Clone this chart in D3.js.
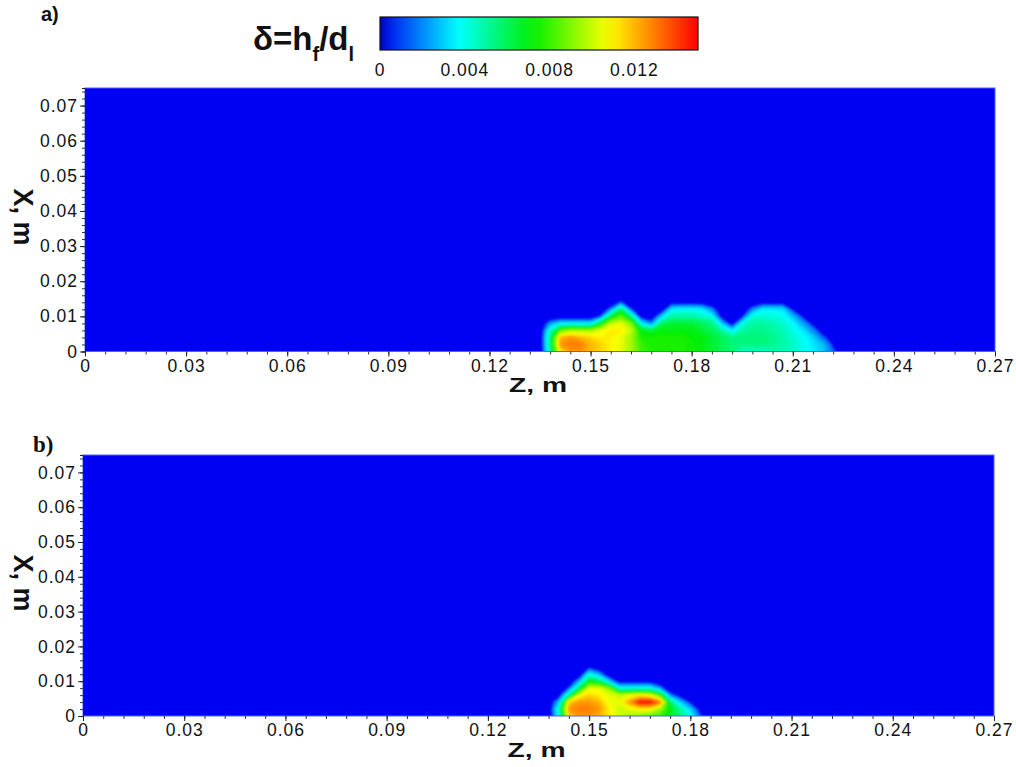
<!DOCTYPE html>
<html>
<head>
<meta charset="utf-8">
<script src="https://cdn.jsdelivr.net/npm/d3@7"></script>
<style>
  body { margin: 0; background: #fff; }
  svg { display: block; }
  text { font-family: "Liberation Sans", Arial, sans-serif; fill: #111; }
</style>
</head>
<body>
<svg id="chart" width="1016" height="767"></svg>
<script>
// Axis ticks
const zTicks = [0, 0.03, 0.06, 0.09, 0.12, 0.15, 0.18, 0.21, 0.24, 0.27];
const xTicks = [0, 0.01, 0.02, 0.03, 0.04, 0.05, 0.06, 0.07];
const legendTicks = [0, 0.004, 0.008, 0.012];

// Colour map of delta (jet-like, as in the colour bar)
const colorStops = [0, 0.0037, 0.0072, 0.0108, 0.015];
const colorList = ["#0000f2", "#00ffff", "#00f000", "#ffff00", "#ff0000"];

// Grid rows: X, m (shared by both panels)
const xRows = [0, 0.002, 0.004, 0.006, 0.008, 0.010, 0.012, 0.014, 0.016];

// Panel a) grid columns Z, m; delta profile along X for each column (units of 1e-3)
const zNodesA = [0.132, 0.135, 0.138, 0.141, 0.144, 0.147, 0.150, 0.153, 0.156, 0.159, 0.162,
                 0.165, 0.168, 0.171, 0.174, 0.177, 0.180, 0.183, 0.186, 0.189, 0.192, 0.195,
                 0.198, 0.201, 0.204, 0.207, 0.210, 0.213, 0.216, 0.219, 0.222, 0.225, 0.228];
const deltaA = [
  [0, 0, 0, 0, 0, 0, 0, 0, 0],
  [0, 0, 0, 0, 0, 0, 0, 0, 0],
  [5, 5.5, 5.5, 4.5, 2.2, 0, 0, 0, 0],
  [11, 12.5, 12, 8.5, 3.5, 0, 0, 0, 0],
  [12.5, 13, 12.5, 9.5, 3.5, 0, 0, 0, 0],
  [12.5, 13, 12, 9.5, 3.5, 0, 0, 0, 0],
  [12, 12, 11.5, 9.5, 3.5, 0, 0, 0, 0],
  [11.5, 11.5, 11, 10.5, 7, 1.5, 0, 0, 0],
  [11, 11, 11, 11, 10, 6.5, 2, 0, 0],
  [10.5, 10.5, 10.5, 11, 10.5, 8.5, 6, 1.5, 0],
  [9.5, 9.5, 9.5, 10, 9, 5.5, 1.5, 0, 0],
  [8, 8, 7.5, 7, 4, 0.5, 0, 0, 0],
  [7.5, 7.5, 7.5, 6.5, 2, 0, 0, 0, 0],
  [7.5, 7.5, 7.5, 7, 6, 3, 0, 0, 0],
  [7.5, 7.5, 7.5, 7, 6.5, 5, 3.5, 0.5, 0],
  [7.5, 7.5, 7.5, 7, 6.5, 5, 3.8, 0.5, 0],
  [7.3, 7.3, 7.2, 7, 6.5, 5, 3.8, 0.5, 0],
  [7, 7, 7, 6.5, 6, 4.5, 3.5, 0.5, 0],
  [6.5, 6.5, 6.5, 6, 5.5, 4, 2, 0, 0],
  [6, 6, 6, 5, 3, 0.5, 0, 0, 0],
  [5.5, 5.5, 5.5, 3.5, 0.5, 0, 0, 0, 0],
  [4.5, 5.5, 5.5, 5, 4, 1, 0, 0, 0],
  [4.5, 5.5, 5.5, 5.3, 5, 4.3, 2, 0, 0],
  [4.5, 5.5, 5.5, 5.3, 5, 4.3, 3.5, 0.5, 0],
  [4.8, 5.3, 5.3, 5, 4.8, 4.2, 3.5, 0.5, 0],
  [4.8, 5, 4.9, 4.7, 4.4, 4, 3.3, 0.5, 0],
  [4.5, 4.5, 4.3, 4, 3.7, 2.8, 1, 0, 0],
  [4, 4, 3.8, 3.4, 2.4, 1, 0, 0, 0],
  [3.5, 3.4, 3.1, 2, 0.8, 0, 0, 0, 0],
  [3, 2.8, 1.5, 0.5, 0, 0, 0, 0, 0],
  [1.5, 1, 0.5, 0, 0, 0, 0, 0, 0],
  [0.5, 0.3, 0, 0, 0, 0, 0, 0, 0],
  [0, 0, 0, 0, 0, 0, 0, 0, 0]
];

// Panel b) grid columns Z, m; delta profile along X for each column (units of 1e-3)
const zNodesB = [0.138, 0.141, 0.144, 0.147, 0.150, 0.153, 0.156, 0.159, 0.162,
                 0.165, 0.168, 0.171, 0.174, 0.177, 0.180, 0.183, 0.186];
const deltaB = [
  [0, 0, 0, 0, 0, 0, 0, 0, 0],
  [4, 4.5, 2.8, 0.5, 0, 0, 0, 0, 0],
  [11.5, 12.5, 11.5, 5, 1.5, 0, 0, 0, 0],
  [12.5, 13, 12.5, 10.5, 6, 2.5, 0, 0, 0],
  [12.5, 13, 12.5, 11.5, 10.5, 7, 4, 1, 0],
  [12, 12.5, 12, 11, 10.5, 6, 2.5, 0, 0],
  [11, 11, 10.5, 10.5, 9, 3, 0, 0, 0],
  [10, 10, 10.5, 10, 4, 0.5, 0, 0, 0],
  [9.5, 10.5, 12.5, 10.5, 4, 0.5, 0, 0, 0],
  [9, 11, 15, 11, 4, 0.5, 0, 0, 0],
  [8.5, 11, 15, 10.5, 4, 0.5, 0, 0, 0],
  [8, 9.5, 13, 8, 2.2, 0, 0, 0, 0],
  [7, 7, 6, 2, 0, 0, 0, 0, 0],
  [5.5, 5, 3, 0.5, 0, 0, 0, 0, 0],
  [4, 3, 1, 0, 0, 0, 0, 0, 0],
  [1.5, 0.5, 0, 0, 0, 0, 0, 0, 0],
  [0, 0, 0, 0, 0, 0, 0, 0, 0]
];

const svg = d3.select("#chart");
const color = d3.scaleLinear().domain(colorStops).range(colorList).clamp(true);
const levels = d3.range(0.0012, 0.0151, 0.0002);
const defs = svg.append("defs");

const blur = defs.append("filter").attr("id", "soft");
blur.append("feGaussianBlur").attr("stdDeviation", 1.1);

const panels = [
  { id: "a", tag: "a)", zNodes: zNodesA, values: deltaA, left: 85, right: 995, top: 88, bottom: 351.5, title: 217 },
  { id: "b", tag: "b)", zNodes: zNodesB, values: deltaB, left: 83, right: 994, top: 455, bottom: 716, title: 583 }
];

panels.forEach(drawPanel);
drawLegend();

function fmt(d) {
  return d === 0 ? "0" : d3.format(".2f")(d);
}

function drawPanel(p) {
  const zs = d3.scaleLinear().domain([0, 0.27]).range([p.left, p.right]);
  const xs = d3.scaleLinear().domain([0, 0.075]).range([p.bottom, p.top]);
  const w = p.right - p.left, h = p.bottom - p.top;

  defs.append("clipPath").attr("id", "clip-" + p.id)
    .append("rect").attr("x", p.left).attr("y", p.top).attr("width", w).attr("height", h);

  const plot = svg.append("g").attr("clip-path", `url(#clip-${p.id})`);
  plot.append("rect")
    .attr("x", p.left).attr("y", p.top).attr("width", w).attr("height", h)
    .attr("fill", color(0));

  // filled contours of delta on the (Z, X) grid
  const n = p.zNodes.length, m = xRows.length;
  const dz = p.zNodes[1] - p.zNodes[0], dx = xRows[1] - xRows[0];
  const grid = d3.transpose(p.values).flat().map(v => v * 1e-3);
  const bands = d3.contours().size([n, m]).thresholds(levels)(grid);
  const proj = d3.geoTransform({
    point(gx, gy) {
      this.stream.point(zs(p.zNodes[0] + (gx - 0.5) * dz), xs(xRows[0] + (gy - 0.5) * dx));
    }
  });
  plot.append("g").attr("filter", "url(#soft)")
    .selectAll("path")
    .data(bands)
    .join("path")
    .attr("d", d3.geoPath(proj))
    .attr("fill", d => color(d.value + 0.0001));

  svg.append("rect")
    .attr("x", p.left).attr("y", p.top).attr("width", w).attr("height", h)
    .attr("fill", "none").attr("stroke", "#4a66ff").attr("stroke-width", 1);

  // minor ticks
  svg.append("g").attr("transform", `translate(0,${p.bottom})`)
    .call(d3.axisBottom(zs).tickValues(d3.range(0, 0.2701, 0.006)).tickSize(3).tickFormat(""))
    .call(g => g.select(".domain").remove())
    .selectAll("line").attr("stroke", "#333");
  svg.append("g").attr("transform", `translate(${p.left},0)`)
    .call(d3.axisLeft(xs).tickValues(d3.range(0, 0.0749, 0.002)).tickSize(3).tickFormat(""))
    .call(g => g.select(".domain").attr("stroke", "#222"))
    .selectAll("line").attr("stroke", "#333");

  // major ticks and labels
  const xa = svg.append("g").attr("transform", `translate(0,${p.bottom})`)
    .call(d3.axisBottom(zs).tickValues(zTicks).tickSize(5).tickPadding(3).tickFormat(fmt));
  xa.select(".domain").remove();
  xa.selectAll("line").attr("stroke", "#222");
  xa.selectAll("text").attr("font-size", 17.5).attr("letter-spacing", 1).attr("fill", "#111")
    .style("font-family", '"Liberation Sans", Arial, sans-serif');

  const ya = svg.append("g").attr("transform", `translate(${p.left},0)`)
    .call(d3.axisLeft(xs).tickValues(xTicks).tickSize(5).tickPadding(2).tickSizeOuter(0).tickFormat(fmt));
  ya.select(".domain").remove();
  ya.selectAll("line").attr("stroke", "#222");
  ya.selectAll("text").attr("font-size", 17.5).attr("letter-spacing", 1).attr("fill", "#111")
    .style("font-family", '"Liberation Sans", Arial, sans-serif');

  // axis titles
  svg.append("text")
    .attr("x", (p.left + p.right) / 2 - 2).attr("y", p.bottom + 40.5)
    .attr("text-anchor", "middle").attr("font-size", 21).attr("font-weight", "bold")
    .attr("textLength", 58).attr("lengthAdjust", "spacingAndGlyphs")
    .text("Z, m");
  svg.append("text")
    .attr("transform", `translate(14,${p.title}) rotate(90)`)
    .attr("text-anchor", "middle").attr("font-size", 27).attr("font-weight", "bold")
    .text("X, m");

  // panel tag
  if (p.id === "a") {
    svg.append("text").attr("x", 41).attr("y", 21)
      .attr("font-size", 20).attr("font-weight", "bold").text(p.tag);
  } else {
    svg.append("text").attr("x", 33).attr("y", 452)
      .style("font-family", '"Liberation Serif", "Times New Roman", serif')
      .attr("font-size", 23).attr("font-weight", "bold").text(p.tag);
  }
}

function drawLegend() {
  const x0 = 380, x1 = 698, y0 = 17, y1 = 50;
  const ls = d3.scaleLinear().domain([0, 0.015]).range([x0, x1]);

  const grad = defs.append("linearGradient").attr("id", "cbar");
  grad.selectAll("stop")
    .data(d3.range(0, 1.0001, 0.05))
    .join("stop")
    .attr("offset", t => t)
    .attr("stop-color", t => t === 0 ? "#0000c8" : color(t * 0.015));

  svg.append("rect")
    .attr("x", x0).attr("y", y0).attr("width", x1 - x0).attr("height", y1 - y0)
    .attr("fill", "url(#cbar)").attr("stroke", "#111").attr("stroke-width", 1.2);

  svg.append("g").selectAll("text")
    .data(legendTicks)
    .join("text")
    .attr("x", d => ls(d)).attr("y", 76)
    .attr("text-anchor", "middle").attr("font-size", 17.5).attr("letter-spacing", 1)
    .text(d => d === 0 ? "0" : d3.format(".3f")(d));

  const t = svg.append("text").attr("x", 253).attr("y", 50)
    .attr("font-size", 33).attr("font-weight", "bold");
  t.append("tspan").text("\u03b4=h");
  t.append("tspan").attr("font-size", 20).attr("dy", 11).text("f");
  t.append("tspan").attr("dy", -11).text("/d");
  t.append("tspan").attr("font-size", 20).attr("dy", 11).text("l");
}
</script>
</body>
</html>
